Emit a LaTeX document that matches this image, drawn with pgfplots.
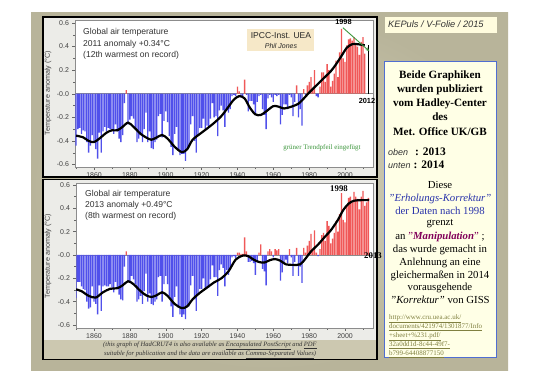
\documentclass[border=0pt]{standalone}
\usepackage{fontspec}
\setmainfont{Liberation Serif}
\setsansfont{Liberation Sans}
\usepackage{pgfplots}
\pgfplotsset{compat=1.18}
\usepackage{pgfplotstable}
\usetikzlibrary{arrows.meta}
\definecolor{barblue}{RGB}{80,80,235}
\definecolor{barred}{RGB}{240,88,88}
\definecolor{panelin}{RGB}{212,209,186}
\definecolor{panelout}{RGB}{184,180,154}
\definecolor{framebg}{RGB}{236,236,232}
\definecolor{capbg}{RGB}{204,200,176}
\definecolor{ipccbg}{RGB}{246,232,200}
\definecolor{trendgreen}{RGB}{60,150,60}
\definecolor{boxfill}{RGB}{255,255,230}
\definecolor{boxline}{RGB}{80,110,210}
\definecolor{kepfill}{RGB}{255,252,222}
\definecolor{textblue}{RGB}{40,50,170}
\definecolor{manip}{RGB}{130,0,90}
\definecolor{linkol}{RGB}{128,128,64}

\pgfplotstableread{
year val
1850 -0.44
1851 -0.30
1852 -0.29
1853 -0.34
1854 -0.31
1855 -0.32
1856 -0.41
1857 -0.50
1858 -0.44
1859 -0.35
1860 -0.40
1861 -0.47
1862 -0.55
1863 -0.33
1864 -0.50
1865 -0.32
1866 -0.28
1867 -0.32
1868 -0.29
1869 -0.30
1870 -0.31
1871 -0.34
1872 -0.26
1873 -0.32
1874 -0.38
1875 -0.41
1876 -0.35
1877 -0.08
1878 0.03
1879 -0.26
1880 -0.22
1881 -0.19
1882 -0.21
1883 -0.28
1884 -0.41
1885 -0.38
1886 -0.35
1887 -0.41
1888 -0.30
1889 -0.16
1890 -0.41
1891 -0.32
1892 -0.46
1893 -0.47
1894 -0.41
1895 -0.39
1896 -0.19
1897 -0.17
1898 -0.37
1899 -0.23
1900 -0.15
1901 -0.24
1902 -0.36
1903 -0.45
1904 -0.52
1905 -0.34
1906 -0.28
1907 -0.48
1908 -0.52
1909 -0.51
1910 -0.51
1911 -0.57
1912 -0.47
1913 -0.45
1914 -0.26
1915 -0.19
1916 -0.40
1917 -0.50
1918 -0.36
1919 -0.29
1920 -0.29
1921 -0.21
1922 -0.30
1923 -0.27
1924 -0.29
1925 -0.21
1926 -0.08
1927 -0.20
1928 -0.19
1929 -0.36
1930 -0.14
1931 -0.10
1932 -0.14
1933 -0.28
1934 -0.14
1935 -0.16
1936 -0.13
1937 -0.02
1938 -0.01
1939 -0.02
1940 0.06
1941 0.02
1942 -0.03
1943 -0.02
1944 0.12
1945 -0.01
1946 -0.15
1947 -0.06
1948 -0.06
1949 -0.09
1950 -0.18
1951 -0.07
1952 -0.02
1953 -0.01
1954 -0.13
1955 -0.18
1956 -0.30
1957 -0.04
1958 -0.01
1959 -0.03
1960 -0.07
1961 -0.01
1962 -0.02
1963 -0.01
1964 -0.26
1965 -0.18
1966 -0.09
1967 -0.09
1968 -0.13
1969 -0.01
1970 -0.03
1971 -0.19
1972 -0.07
1973 0.07
1974 -0.20
1975 -0.13
1976 -0.27
1977 0.04
1978 -0.01
1979 0.07
1980 0.10
1981 0.14
1982 0.04
1983 0.20
1984 -0.02
1985 -0.03
1986 0.06
1987 0.18
1988 0.18
1989 0.10
1990 0.25
1991 0.20
1992 0.06
1993 0.11
1994 0.17
1995 0.28
1996 0.14
1997 0.35
1998 0.55
1999 0.30
2000 0.27
2001 0.41
2002 0.46
2003 0.47
2004 0.45
2005 0.48
2006 0.43
2007 0.40
2008 0.33
2009 0.44
2010 0.48
2011 0.34
}\topdata

\pgfplotstableread{
year val
1850 -0.37
1851 -0.23
1852 -0.23
1853 -0.27
1854 -0.29
1855 -0.30
1856 -0.40
1857 -0.46
1858 -0.45
1859 -0.27
1860 -0.40
1861 -0.42
1862 -0.51
1863 -0.26
1864 -0.48
1865 -0.27
1866 -0.26
1867 -0.27
1868 -0.27
1869 -0.25
1870 -0.28
1871 -0.32
1872 -0.23
1873 -0.29
1874 -0.34
1875 -0.38
1876 -0.39
1877 -0.10
1878 0.03
1879 -0.23
1880 -0.24
1881 -0.18
1882 -0.21
1883 -0.25
1884 -0.40
1885 -0.38
1886 -0.35
1887 -0.42
1888 -0.31
1889 -0.16
1890 -0.40
1891 -0.33
1892 -0.42
1893 -0.43
1894 -0.40
1895 -0.38
1896 -0.19
1897 -0.18
1898 -0.40
1899 -0.25
1900 -0.18
1901 -0.25
1902 -0.35
1903 -0.44
1904 -0.53
1905 -0.36
1906 -0.27
1907 -0.45
1908 -0.51
1909 -0.53
1910 -0.51
1911 -0.55
1912 -0.45
1913 -0.44
1914 -0.26
1915 -0.18
1916 -0.38
1917 -0.48
1918 -0.34
1919 -0.29
1920 -0.29
1921 -0.20
1922 -0.30
1923 -0.28
1924 -0.28
1925 -0.21
1926 -0.09
1927 -0.19
1928 -0.19
1929 -0.35
1930 -0.13
1931 -0.08
1932 -0.11
1933 -0.27
1934 -0.13
1935 -0.17
1936 -0.13
1937 -0.02
1938 -0.01
1939 -0.03
1940 0.02
1941 0.02
1942 0.01
1943 0.01
1944 0.15
1945 0.03
1946 -0.06
1947 -0.06
1948 -0.05
1949 -0.07
1950 -0.17
1951 -0.05
1952 0.02
1953 0.09
1954 -0.12
1955 -0.14
1956 -0.26
1957 0.03
1958 0.05
1959 0.03
1960 -0.02
1961 0.05
1962 0.04
1963 0.05
1964 -0.22
1965 -0.15
1966 -0.06
1967 -0.04
1968 -0.07
1969 0.05
1970 -0.02
1971 -0.18
1972 -0.06
1973 0.06
1974 -0.18
1975 -0.10
1976 -0.24
1977 0.06
1978 0.02
1979 0.08
1980 0.12
1981 0.18
1982 0.05
1983 0.21
1984 0.02
1985 -0.01
1986 0.05
1987 0.17
1988 0.19
1989 0.12
1990 0.29
1991 0.25
1992 0.10
1993 0.14
1994 0.19
1995 0.29
1996 0.20
1997 0.35
1998 0.53
1999 0.30
2000 0.28
2001 0.43
2002 0.49
2003 0.50
2004 0.45
2005 0.54
2006 0.50
2007 0.48
2008 0.39
2009 0.50
2010 0.55
2011 0.42
2012 0.45
2013 0.49
}\botdata

\pgfplotsset{hadstyle/.style={
  scale only axis, width=298bp,
  xmin=1849.4, xmax=2015.6,
  axis background/.style={fill=white},
  axis line style={draw=black!45, line width=0.5pt},
  tick pos=left, tick align=outside,
  major tick length=2.6bp, minor tick length=1.6bp,
  every tick/.style={black!60, line width=0.4pt},
  xtick={1860,1880,...,2000},
  xticklabels={1860,1880,1900,1920,1940,1960,1980,2000},
  minor xtick={1850,1870,...,2010},
  ytick={-0.6,-0.4,-0.2,0,0.2,0.4,0.6},
  yticklabels={-0.6,-0.4,-0.2,-0.0,0.2,0.4,0.6},
  minor ytick={-0.5,-0.3,-0.1,0.1,0.3,0.5},
  tick label style={font=\sffamily\fontsize{7}{7}\selectfont, text=black!75},
  extra y ticks={0}, extra y tick labels={},
  extra y tick style={grid=major, major grid style={black!45, line width=0.5pt}, major tick length=0pt},
  clip=true,
}}

\begin{document}
\begin{tikzpicture}
\useasboundingbox (0,0) rectangle (540bp,-382bp);
\fill[white] (0,0) rectangle (540bp,-382bp);
\begin{scope}[x=1bp,y=-1bp]
  \shade[inner color=panelin, outer color=panelout] (31,12) rectangle (508,370);
  \fill[framebg] (43,17) rectangle (377,177);
  \fill[framebg] (43,179.5) rectangle (377,340);
  \fill[capbg] (43,340) rectangle (377,359.5);
\end{scope}

% ---------- top chart ----------
\begin{axis}[hadstyle, at={(75bp,-167bp)}, anchor=south west, height=147bp,
  ymin=-0.621, ymax=0.625]
\addplot[ybar, bar width=0.74, bar shift=0pt, fill=barblue, draw=none, restrict y to domain=-1:0] table[x=year,y=val]{\topdata};
\addplot[ybar, bar width=0.74, bar shift=0pt, fill=barred, draw=none, restrict y to domain=0:1] table[x=year,y=val]{\topdata};
\addplot[black, line width=2.2bp, smooth, tension=0.5] coordinates {
(1850,-0.355) (1854,-0.37) (1857,-0.40) (1860,-0.41) (1863,-0.38) (1867,-0.33) (1870,-0.31) (1873,-0.31) (1876,-0.28) (1879,-0.245) (1882,-0.28) (1886,-0.34) (1889,-0.37) (1892,-0.39) (1895,-0.37) (1898,-0.35) (1901,-0.38) (1905,-0.45) (1909,-0.495) (1912,-0.47) (1915,-0.39) (1920,-0.33) (1926,-0.26) (1931,-0.19) (1935,-0.11) (1938,-0.05) (1941,-0.02) (1944,-0.04) (1947,-0.12) (1950,-0.175) (1953,-0.18) (1956,-0.15) (1960,-0.105) (1963,-0.11) (1966,-0.125) (1970,-0.11) (1974,-0.085) (1977,-0.04) (1980,0.01) (1984,0.07) (1988,0.13) (1992,0.19) (1995,0.25) (1998,0.32) (2001,0.39) (2004,0.42) (2007,0.42) (2011,0.41)};
\addplot[black, line width=1.1bp] coordinates {(2013.2,0.41) (2013.2,-0.005)};
\addplot[trendgreen, line width=0.9bp, -{Stealth[length=4bp,width=3.2bp]}] coordinates {(1998.8,0.56) (2013.6,0.36)};
\end{axis}

% ---------- bottom chart ----------
\begin{axis}[hadstyle, at={(76bp,-328bp)}, anchor=south west, height=145bp, width=297bp,
  xmin=1849.96, ymin=-0.626, ymax=0.617]
\addplot[ybar, bar width=0.74, bar shift=0pt, fill=barblue, draw=none, restrict y to domain=-1:0] table[x=year,y=val]{\botdata};
\addplot[ybar, bar width=0.74, bar shift=0pt, fill=barred, draw=none, restrict y to domain=0:1] table[x=year,y=val]{\botdata};
\addplot[black, line width=2.2bp, smooth, tension=0.5] coordinates {
(1850,-0.295) (1853,-0.31) (1857,-0.35) (1861,-0.365) (1865,-0.32) (1869,-0.29) (1873,-0.285) (1876,-0.26) (1879,-0.225) (1882,-0.25) (1886,-0.31) (1889,-0.345) (1892,-0.36) (1895,-0.345) (1898,-0.32) (1901,-0.35) (1905,-0.42) (1909,-0.455) (1912,-0.44) (1915,-0.38) (1919,-0.325) (1923,-0.28) (1927,-0.235) (1931,-0.2) (1935,-0.14) (1939,-0.04) (1943,-0.005) (1946,-0.01) (1949,-0.04) (1952,-0.06) (1955,-0.065) (1958,-0.045) (1961,-0.035) (1964,-0.05) (1967,-0.08) (1971,-0.085) (1975,-0.08) (1978,-0.03) (1981,0.03) (1985,0.09) (1989,0.16) (1992,0.21) (1996,0.30) (1999,0.385) (2002,0.44) (2005,0.465) (2009,0.47) (2013.5,0.47)};
\end{axis}

\begin{scope}[x=1bp,y=-1bp]
  % frames
  \draw[black, line width=1.5bp] (43,17) rectangle (377,177);
  \draw[black, line width=1.7bp] (43,179.5) rectangle (377,359.5);
  % y labels
  \node[rotate=90, font=\sffamily\fontsize{7.2}{8}\selectfont, text=black!75] at (48,93) {Temperature anomaly (°C)};
  \node[rotate=90, font=\sffamily\fontsize{7.2}{8}\selectfont, text=black!75] at (48,256) {Temperature anomaly (°C)};
  % chart texts
  \begin{scope}[every node/.style={anchor=mid west, inner sep=0pt, font=\sffamily\fontsize{8.6}{9}\selectfont, text=black!80}]
    \node at (83,32.7) {Global air temperature};
    \node at (83,44.3) {2011 anomaly +0.34°C};
    \node at (83,55.7) {(12th warmest on record)};
    \node at (85,194) {Global air temperature};
    \node at (85,205.3) {2013 anomaly +0.49°C};
    \node at (85,216.7) {(8th warmest on record)};
  \end{scope}
  \fill[ipccbg] (247,29) rectangle (314,51);
  \node[font=\sffamily\fontsize{8.6}{9}\selectfont, text=black!85, anchor=mid] at (281,36) {IPCC-Inst. UEA};
  \node[font=\sffamily\itshape\fontsize{7}{8}\selectfont, text=black!85, anchor=mid] at (281,46) {Phil Jones};
  \node[font=\fontsize{7}{8}\selectfont, text=trendgreen, anchor=mid] at (322,147) {grüner Trendpfeil eingefügt};
  \node[font=\sffamily\bfseries\fontsize{7.4}{8}\selectfont, anchor=mid] at (343.5,22.5) {1998};
  \node[font=\sffamily\bfseries\fontsize{7.4}{8}\selectfont, anchor=mid] at (367,101.5) {2012};
  \node[font=\bfseries\fontsize{8.8}{9}\selectfont, anchor=mid] at (339,189) {1998};
  \node[font=\bfseries\fontsize{8.8}{9}\selectfont, anchor=mid] at (373,256) {2013};
  % caption
  \node[font=\itshape\fontsize{6.6}{7}\selectfont, text=black!80, anchor=mid] at (210,344.3) {(this graph of HadCRUT4 is also available as \underline{Encapsulated PostScript} and \underline{PDF}};
  \node[font=\itshape\fontsize{6.6}{7}\selectfont, text=black!80, anchor=mid] at (210,353.3) {suitable for publication and the data are available as \underline{Comma-Separated Values})};
  % right panel
  \fill[kepfill] (385,17) rectangle (497,33);
  \node[font=\sffamily\itshape\fontsize{9.3}{10}\selectfont, text=black!80, anchor=mid west, inner sep=0pt] at (388,25) {KEPuls / V-Folie / 2015};
  \draw[boxline, fill=boxfill, line width=1bp] (384,61) rectangle (496,357);
  \begin{scope}[every node/.style={anchor=mid, inner sep=0pt, font=\bfseries\fontsize{11.2}{12}\selectfont}]
    \node at (440,76) {Beide Graphiken};
    \node at (440,90.5) {wurden publiziert};
    \node at (440,104) {vom Hadley-Center};
    \node at (440,118) {des};
    \node at (440,133) {Met. Office UK/GB};
  \end{scope}
  \node[anchor=mid west, inner sep=0pt, font=\sffamily\itshape\fontsize{9}{10}\selectfont, text=black!80] at (388,153) {oben};
  \node[anchor=mid west, inner sep=0pt, font=\bfseries\fontsize{11.5}{12}\selectfont] at (415,153) {: 2013};
  \node[anchor=mid west, inner sep=0pt, font=\sffamily\itshape\fontsize{9}{10}\selectfont, text=black!80] at (388,166.5) {unten};
  \node[anchor=mid west, inner sep=0pt, font=\bfseries\fontsize{11.5}{12}\selectfont] at (413.5,166.5) {: 2014};
  \begin{scope}[every node/.style={anchor=mid, inner sep=0pt, font=\fontsize{10.8}{12}\selectfont}]
    \node at (440,186) {Diese};
    \node[text=textblue] at (440,199) {\itshape "Erholungs-Korrektur"};
    \node[text=textblue] at (440,212) {der Daten nach 1998};
    \node at (440,223.5) {grenzt};
    \node at (440,237) {an \textcolor{manip}{"\textbf{\textit{Manipulation}}"} ;};
    \node at (440,250) {das wurde gemacht in};
    \node at (440,263) {Anlehnung an eine};
    \node at (440,276) {gleichermaßen in 2014};
    \node at (440,288.5) {vorausgehende};
    \node at (440,301) {\textit{"Korrektur"} von GISS};
  \end{scope}
  \begin{scope}[every node/.style={anchor=mid west, inner sep=0pt, font=\fontsize{7}{8}\selectfont, text=linkol}]
    \node at (389,317) {\underline{http://www.cru.uea.ac.uk/}};
    \node at (389,326) {\underline{documents/421974/1301877/Info}};
    \node at (389,335) {\underline{+sheet+\%231.pdf/}};
    \node at (389,344) {\underline{32a0dd1d-8c44-49f7-}};
    \node at (389,353) {\underline{b799-64408877150}};
  \end{scope}
\end{scope}
\end{tikzpicture}
\end{document}
